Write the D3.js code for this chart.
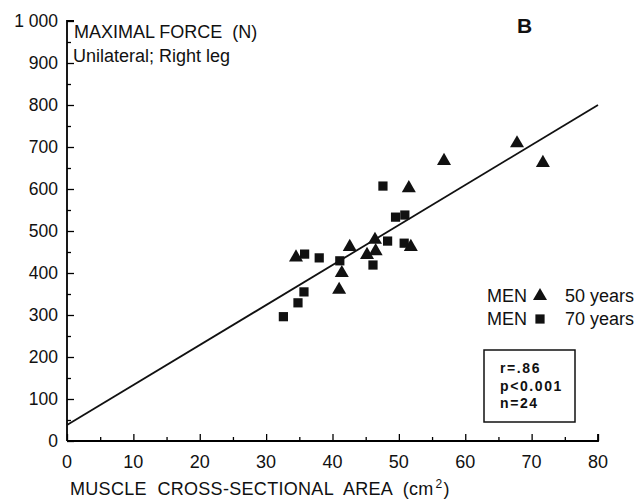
<!DOCTYPE html>
<html>
<head>
<meta charset="utf-8">
<script src="https://cdn.jsdelivr.net/npm/d3@7"></script>
<style>
  body { margin: 0; background: #fff; }
  svg text { font-family: "Liberation Sans", Arial, sans-serif; fill: #111; white-space: pre; }
</style>
</head>
<body>
<svg id="chart" width="643" height="501"></svg>
<script>
// data
const men50 = [
    { area: 34.5, force: 437 },
    { area: 41.0, force: 360 },
    { area: 41.4, force: 400 },
    { area: 42.6, force: 462 },
    { area: 45.2, force: 443 },
    { area: 46.4, force: 479 },
    { area: 46.5, force: 452 },
    { area: 51.5, force: 602 },
    { area: 51.8, force: 462 },
    { area: 56.8, force: 667 },
    { area: 67.8, force: 709 },
    { area: 71.7, force: 662 }
];
const men70 = [
    { area: 32.6, force: 296 },
    { area: 34.8, force: 329 },
    { area: 35.7, force: 355 },
    { area: 35.8, force: 445 },
    { area: 38.0, force: 436 },
    { area: 41.1, force: 429 },
    { area: 46.1, force: 419 },
    { area: 47.6, force: 607 },
    { area: 48.3, force: 476 },
    { area: 49.5, force: 533 },
    { area: 50.8, force: 471 },
    { area: 50.9, force: 538 }
];
// regression line end points
const fitLine = [{ area: 0, force: 38 }, { area: 80, force: 800 }];
const xTicks = d3.range(0, 81, 10);
const yTicks = d3.range(0, 1001, 100);
const statsLines = ["r=.86", "p<0.001", "n=24"];
const legendRows = [{ label: "50 years", shape: "triangle" }, { label: "70 years", shape: "square" }];

// scales
const x = d3.scaleLinear().domain([0, 80]).range([67, 598]);
const y = d3.scaleLinear().domain([0, 1000]).range([441, 21]);

const svg = d3.select("#chart");

// x axis, ticks pointing inwards
const xAxis = svg.append("g")
    .attr("transform", `translate(0,${y(0)})`)
    .call(d3.axisBottom(x).tickValues(d3.range(0, 81, 5)).tickSize(-7).tickFormat(""));
xAxis.selectAll(".tick line")
    .attr("y2", d => d % 10 === 0 ? -7 : -4)
    .attr("stroke-width", 1.3);
xAxis.select(".domain").attr("d", `M${x(0)},0H${x(80)}V-7`).attr("stroke-width", 1.8);

svg.append("g").selectAll("text")
    .data(xTicks)
    .join("text")
    .attr("x", d => x(d))
    .attr("y", y(0) + 27)
    .attr("text-anchor", "middle")
    .style("font-size", "18px")
    .text(d => d);

// y axis, ticks pointing inwards
const yAxis = svg.append("g")
    .attr("transform", `translate(${x(0)},0)`)
    .call(d3.axisLeft(y).tickValues(d3.range(0, 1001, 50)).tickSize(-7).tickFormat(""));
yAxis.selectAll(".tick line")
    .attr("x2", d => d % 100 === 0 ? 7 : 4)
    .attr("stroke-width", 1.3);
yAxis.select(".domain").attr("d", `M0,${y(0)}V${y(1000)}H7`).attr("stroke-width", 1.8);

svg.append("g").selectAll("text")
    .data(yTicks)
    .join("text")
    .attr("x", x(0) - 9)
    .attr("y", d => y(d) + 6)
    .attr("text-anchor", "end")
    .style("font-size", "17.5px")
    .text(d => d === 1000 ? "1 000" : d);

// titles
svg.append("text").attr("x", 74).attr("y", 38).style("font-size", "18px").text("MAXIMAL FORCE  (N)");
svg.append("text").attr("x", 73).attr("y", 62).style("font-size", "18px").text("Unilateral; Right leg");
svg.append("text").attr("x", 517).attr("y", 33).style("font-size", "21px").style("font-weight", "bold").text("B");

// x label
const xl = svg.append("text").attr("x", 70).attr("y", 495).style("font-size", "18px")
    .style("letter-spacing", "0.3px");
xl.append("tspan").text("MUSCLE  CROSS-SECTIONAL  AREA  (cm");
xl.append("tspan").attr("dx", 2).attr("dy", -7).style("font-size", "12px").text("2");
xl.append("tspan").attr("dx", 1).attr("dy", 7).text(")");

// regression line
svg.append("path")
    .datum(fitLine)
    .attr("d", d3.line().x(d => x(d.area)).y(d => y(d.force)))
    .attr("stroke", "#111")
    .attr("stroke-width", 1.8)
    .attr("fill", "none");

const tri = d3.symbol().type(d3.symbolTriangle).size(85);
const sq = d3.symbol().type(d3.symbolSquare).size(85);

svg.append("g").selectAll("path")
    .data(men50)
    .join("path")
    .attr("transform", d => `translate(${x(d.area)},${y(d.force)})`)
    .attr("d", tri)
    .attr("fill", "#111");

svg.append("g").selectAll("path")
    .data(men70)
    .join("path")
    .attr("transform", d => `translate(${x(d.area)},${y(d.force)})`)
    .attr("d", sq)
    .attr("fill", "#111");

// legend
const leg = svg.append("g").selectAll("g")
    .data(legendRows)
    .join("g")
    .attr("transform", (d, i) => `translate(487,${302 + i * 23})`);
leg.append("text").style("font-size", "18px").text("MEN");
leg.append("path")
    .attr("transform", "translate(53,-6)")
    .attr("d", d => d.shape === "triangle" ? tri() : sq())
    .attr("fill", "#111");
leg.append("text").attr("x", 78).style("font-size", "18px").text(d => d.label);

// stats box
svg.append("rect")
    .attr("x", 484).attr("y", 350).attr("width", 91).attr("height", 72)
    .attr("fill", "none").attr("stroke", "#111").attr("stroke-width", 1.5);
svg.append("g").selectAll("text")
    .data(statsLines)
    .join("text")
    .attr("x", 500)
    .attr("y", (d, i) => 373 + i * 17.5)
    .style("font-size", "14px")
    .style("font-weight", "bold")
    .style("letter-spacing", "1.6px")
    .text(d => d);
</script>
</body>
</html>
